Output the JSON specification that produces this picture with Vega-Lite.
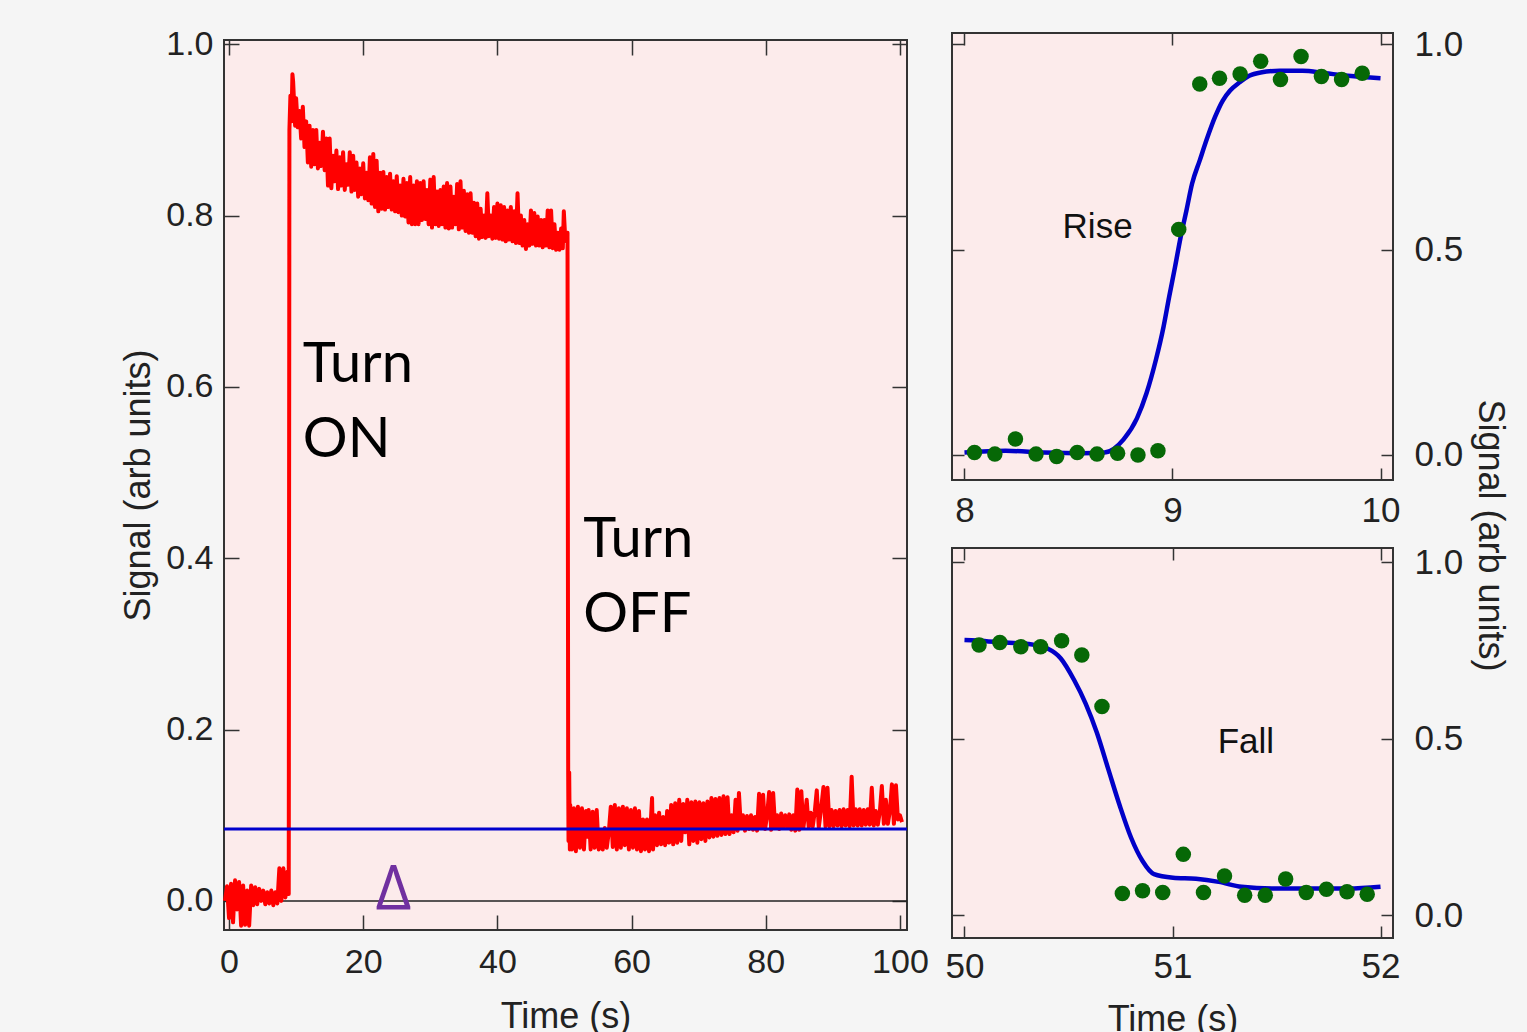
{
  "$schema": "https://vega.github.io/schema/vega-lite/v6.json",
  "background": "#f5f5f5",
  "padding": {"left": 119, "top": 26, "right": 30, "bottom": 10},
  "config": {
    "view": {"fill": "#fcebeb", "stroke": "#333333", "strokeWidth": 2},
    "axis": {"grid": false, "domain": false, "labelFont": "Liberation Sans", "labelFontSize": 34, "labelColor": "#222222", "titleFont": "Liberation Sans", "titleFontSize": 36, "titleFontWeight": "normal", "titleColor": "#222222", "tickColor": "#333333", "tickWidth": 1.5, "labelFlush": false, "labelOverlap": false}
  },
  "datasets": {
    "zero": [{"v": 0}],
    "base": [{"v": 0.084}],
    "spacer": [],
    "mainText": [{"t": 11.0, "v": 0.6056, "label": "Turn\nON"}, {"t": 52.8, "v": 0.4018, "label": "Turn\nOFF"}],
    "delta": [{"t": 24.5, "v": -0.0105, "label": "Δ"}],
    "red": [
      {"t":-0.6,"v":0.0},{"t":-0.3,"v":0.017},{"t":0.0,"v":-0.02},{"t":0.3,"v":0.02},{"t":0.6,"v":-0.025},{"t":0.9,"v":0.024},{"t":1.2,"v":-0.01},{"t":1.5,"v":0.022},{"t":1.8,"v":-0.029},{"t":2.1,"v":0.018},{"t":2.4,"v":-0.028},{"t":2.7,"v":0.012},{"t":3.0,"v":-0.029},{"t":3.3,"v":0.018},{"t":3.6,"v":-0.005},{"t":3.9,"v":0.016},{"t":4.2,"v":-0.004},{"t":4.5,"v":0.014},{"t":4.8,"v":0.0},{"t":5.1,"v":0.012},{"t":5.4,"v":-0.004},{"t":5.7,"v":0.01},{"t":6.0,"v":-0.003},{"t":6.3,"v":0.012},{"t":6.6,"v":-0.005},{"t":6.9,"v":0.01},{"t":7.2,"v":-0.003},{"t":7.5,"v":0.038},{"t":7.8,"v":0.0},{"t":8.1,"v":0.038},{"t":8.4,"v":0.004},{"t":8.7,"v":0.034},{"t":8.9,"v":0.008},
      {"t":9.0,"v":0.9},{"t":9.15,"v":0.94},{"t":9.3,"v":0.91},{"t":9.45,"v":0.965},{"t":9.55,"v":0.957},{"t":9.7,"v":0.932},{"t":9.85,"v":0.905},
      {"t":10.0,"v":0.937},{"t":10.25,"v":0.903},{"t":10.5,"v":0.922},{"t":10.75,"v":0.89},{"t":11.0,"v":0.927},{"t":11.25,"v":0.88},{"t":11.5,"v":0.91},{"t":11.75,"v":0.862},
      {"t":12.0,"v":0.905},{"t":12.25,"v":0.857},{"t":12.5,"v":0.9},{"t":12.75,"v":0.86},{"t":13.0,"v":0.9},{"t":13.25,"v":0.855},{"t":13.5,"v":0.885},{"t":13.75,"v":0.858},
      {"t":14.0,"v":0.898},{"t":14.25,"v":0.853},{"t":14.5,"v":0.89},{"t":14.75,"v":0.835},{"t":15.0,"v":0.89},{"t":15.25,"v":0.832},{"t":15.5,"v":0.87},{"t":15.75,"v":0.84},
      {"t":16.0,"v":0.876},{"t":16.25,"v":0.831},{"t":16.5,"v":0.868},{"t":16.75,"v":0.835},{"t":17.0,"v":0.874},{"t":17.25,"v":0.83},{"t":17.5,"v":0.86},{"t":17.75,"v":0.836},
      {"t":18.0,"v":0.874},{"t":18.25,"v":0.828},{"t":18.5,"v":0.87},{"t":18.75,"v":0.83},{"t":19.0,"v":0.862},{"t":19.25,"v":0.822},{"t":19.5,"v":0.855},{"t":19.75,"v":0.825},
      {"t":20.0,"v":0.861},{"t":20.25,"v":0.82},{"t":20.5,"v":0.85},{"t":20.75,"v":0.818},{"t":21.0,"v":0.868},{"t":21.25,"v":0.814},{"t":21.5,"v":0.872},{"t":21.75,"v":0.81},
      {"t":22.0,"v":0.864},{"t":22.25,"v":0.805},{"t":22.5,"v":0.85},{"t":22.75,"v":0.808},{"t":23.0,"v":0.851},{"t":23.25,"v":0.807},{"t":23.5,"v":0.845},{"t":23.75,"v":0.81},
      {"t":24.0,"v":0.849},{"t":24.25,"v":0.807},{"t":24.5,"v":0.84},{"t":24.75,"v":0.805},{"t":25.0,"v":0.846},{"t":25.25,"v":0.804},{"t":25.5,"v":0.835},{"t":25.75,"v":0.8},
      {"t":26.0,"v":0.843},{"t":26.25,"v":0.799},{"t":26.5,"v":0.838},{"t":26.75,"v":0.792},{"t":27.0,"v":0.845},{"t":27.25,"v":0.79},{"t":27.5,"v":0.835},{"t":27.75,"v":0.79},
      {"t":28.0,"v":0.84},{"t":28.25,"v":0.79},{"t":28.5,"v":0.838},{"t":28.75,"v":0.795},{"t":29.0,"v":0.84},{"t":29.25,"v":0.796},{"t":29.5,"v":0.83},{"t":29.75,"v":0.79},
      {"t":30.0,"v":0.842},{"t":30.25,"v":0.786},{"t":30.5,"v":0.845},{"t":30.75,"v":0.79},{"t":31.0,"v":0.828},{"t":31.25,"v":0.788},{"t":31.5,"v":0.83},{"t":31.75,"v":0.79},
      {"t":32.0,"v":0.834},{"t":32.25,"v":0.786},{"t":32.5,"v":0.838},{"t":32.75,"v":0.785},{"t":33.0,"v":0.834},{"t":33.25,"v":0.786},{"t":33.5,"v":0.822},{"t":33.75,"v":0.79},
      {"t":34.0,"v":0.837},{"t":34.25,"v":0.784},{"t":34.5,"v":0.84},{"t":34.75,"v":0.786},{"t":35.0,"v":0.829},{"t":35.25,"v":0.782},{"t":35.5,"v":0.825},{"t":35.75,"v":0.78},
      {"t":36.0,"v":0.826},{"t":36.25,"v":0.78},{"t":36.5,"v":0.815},{"t":36.75,"v":0.776},{"t":37.0,"v":0.814},{"t":37.25,"v":0.773},{"t":37.5,"v":0.808},{"t":37.75,"v":0.775},
      {"t":38.0,"v":0.8},{"t":38.25,"v":0.774},{"t":38.5,"v":0.826},{"t":38.75,"v":0.776},{"t":39.0,"v":0.8},{"t":39.25,"v":0.773},{"t":39.5,"v":0.81},{"t":39.75,"v":0.774},
      {"t":40.0,"v":0.814},{"t":40.25,"v":0.773},{"t":40.5,"v":0.812},{"t":40.75,"v":0.772},{"t":41.0,"v":0.81},{"t":41.25,"v":0.77},{"t":41.5,"v":0.806},{"t":41.75,"v":0.772},
      {"t":42.0,"v":0.81},{"t":42.25,"v":0.77},{"t":42.5,"v":0.805},{"t":42.75,"v":0.768},{"t":43.0,"v":0.826},{"t":43.25,"v":0.768},{"t":43.5,"v":0.8},{"t":43.75,"v":0.765},
      {"t":44.0,"v":0.795},{"t":44.25,"v":0.761},{"t":44.5,"v":0.79},{"t":44.75,"v":0.765},{"t":45.0,"v":0.806},{"t":45.25,"v":0.767},{"t":45.5,"v":0.803},{"t":45.75,"v":0.765},
      {"t":46.0,"v":0.799},{"t":46.25,"v":0.765},{"t":46.5,"v":0.795},{"t":46.75,"v":0.763},{"t":47.0,"v":0.795},{"t":47.25,"v":0.765},{"t":47.5,"v":0.806},{"t":47.75,"v":0.763},
      {"t":48.0,"v":0.806},{"t":48.25,"v":0.762},{"t":48.5,"v":0.79},{"t":48.75,"v":0.76},{"t":49.0,"v":0.78},{"t":49.25,"v":0.76},{"t":49.5,"v":0.785},{"t":49.75,"v":0.762},
      {"t":49.9,"v":0.805},{"t":50.1,"v":0.775},{"t":50.3,"v":0.77},{"t":50.45,"v":0.78},{"t":50.55,"v":0.15},{"t":50.6,"v":0.07},{"t":50.7,"v":0.15},{"t":50.8,"v":0.06},
      {"t":50.85,"v":0.112},{"t":51.1,"v":0.06},{"t":51.4,"v":0.108},{"t":51.7,"v":0.058},{"t":52.0,"v":0.11},{"t":52.3,"v":0.062},{"t":52.6,"v":0.108},{"t":52.9,"v":0.06},
      {"t":53.2,"v":0.105},{"t":53.4,"v":0.075},{"t":53.6,"v":0.106},{"t":53.9,"v":0.06},{"t":54.2,"v":0.104},{"t":54.5,"v":0.062},{"t":54.8,"v":0.106},{"t":55.1,"v":0.06},
      {"t":55.4,"v":0.082},{"t":55.7,"v":0.06},{"t":56.0,"v":0.085},{"t":56.3,"v":0.062},{"t":56.6,"v":0.08},{"t":56.9,"v":0.11},{"t":57.2,"v":0.063},{"t":57.5,"v":0.112},
      {"t":57.8,"v":0.06},{"t":58.1,"v":0.108},{"t":58.4,"v":0.062},{"t":58.7,"v":0.11},{"t":59.0,"v":0.065},{"t":59.3,"v":0.108},{"t":59.6,"v":0.06},{"t":59.9,"v":0.106},
      {"t":60.2,"v":0.062},{"t":60.5,"v":0.108},{"t":60.8,"v":0.06},{"t":61.1,"v":0.105},{"t":61.4,"v":0.058},{"t":61.7,"v":0.095},{"t":62.0,"v":0.06},{"t":62.3,"v":0.095},
      {"t":62.6,"v":0.058},{"t":62.9,"v":0.098},{"t":63.05,"v":0.12},{"t":63.2,"v":0.06},{"t":63.5,"v":0.1},{"t":63.8,"v":0.065},{"t":64.1,"v":0.103},{"t":64.4,"v":0.066},
      {"t":64.7,"v":0.098},{"t":65.0,"v":0.065},{"t":65.3,"v":0.105},{"t":65.6,"v":0.068},{"t":65.9,"v":0.112},{"t":66.2,"v":0.066},{"t":66.5,"v":0.114},{"t":66.8,"v":0.068},
      {"t":67.1,"v":0.118},{"t":67.4,"v":0.07},{"t":67.7,"v":0.113},{"t":68.0,"v":0.08},{"t":68.3,"v":0.118},{"t":68.6,"v":0.066},{"t":68.9,"v":0.115},{"t":69.2,"v":0.07},
      {"t":69.5,"v":0.116},{"t":69.8,"v":0.068},{"t":70.1,"v":0.115},{"t":70.4,"v":0.072},{"t":70.7,"v":0.114},{"t":71.0,"v":0.07},{"t":71.3,"v":0.116},{"t":71.6,"v":0.074},
      {"t":71.9,"v":0.12},{"t":72.2,"v":0.075},{"t":72.5,"v":0.119},{"t":72.8,"v":0.076},{"t":73.1,"v":0.12},{"t":73.4,"v":0.077},{"t":73.7,"v":0.122},{"t":74.0,"v":0.078},
      {"t":74.3,"v":0.121},{"t":74.6,"v":0.078},{"t":74.9,"v":0.1},{"t":75.2,"v":0.08},{"t":75.5,"v":0.118},{"t":75.8,"v":0.082},{"t":76.0,"v":0.126},{"t":76.3,"v":0.085},
      {"t":76.6,"v":0.1},{"t":76.9,"v":0.082},{"t":77.2,"v":0.099},{"t":77.5,"v":0.084},{"t":77.8,"v":0.1},{"t":78.1,"v":0.083},{"t":78.4,"v":0.098},{"t":78.7,"v":0.082},
      {"t":79.0,"v":0.125},{"t":79.3,"v":0.085},{"t":79.6,"v":0.124},{"t":79.9,"v":0.084},{"t":80.2,"v":0.1},{"t":80.5,"v":0.127},{"t":80.8,"v":0.083},{"t":81.1,"v":0.126},
      {"t":81.4,"v":0.085},{"t":81.7,"v":0.1},{"t":82.0,"v":0.084},{"t":82.3,"v":0.102},{"t":82.6,"v":0.085},{"t":82.9,"v":0.1},{"t":83.2,"v":0.086},{"t":83.5,"v":0.101},
      {"t":83.8,"v":0.083},{"t":84.1,"v":0.1},{"t":84.4,"v":0.082},{"t":84.7,"v":0.13},{"t":85.0,"v":0.083},{"t":85.3,"v":0.128},{"t":85.6,"v":0.085},{"t":85.9,"v":0.104},
      {"t":86.1,"v":0.118},{"t":86.4,"v":0.086},{"t":86.7,"v":0.103},{"t":87.0,"v":0.087},{"t":87.3,"v":0.104},{"t":87.6,"v":0.129},{"t":87.9,"v":0.086},{"t":88.2,"v":0.104},
      {"t":88.6,"v":0.133},{"t":88.9,"v":0.087},{"t":89.2,"v":0.132},{"t":89.5,"v":0.087},{"t":89.8,"v":0.106},{"t":90.1,"v":0.087},{"t":90.4,"v":0.105},{"t":90.7,"v":0.088},
      {"t":91.0,"v":0.106},{"t":91.3,"v":0.087},{"t":91.6,"v":0.107},{"t":91.9,"v":0.088},{"t":92.2,"v":0.106},{"t":92.5,"v":0.087},{"t":92.8,"v":0.145},{"t":93.1,"v":0.088},
      {"t":93.4,"v":0.107},{"t":93.7,"v":0.088},{"t":94.0,"v":0.107},{"t":94.3,"v":0.088},{"t":94.6,"v":0.106},{"t":94.9,"v":0.089},{"t":95.2,"v":0.107},{"t":95.5,"v":0.089},
      {"t":95.8,"v":0.132},{"t":96.1,"v":0.088},{"t":96.4,"v":0.105},{"t":96.7,"v":0.089},{"t":97.0,"v":0.104},{"t":97.3,"v":0.134},{"t":97.6,"v":0.09},{"t":97.9,"v":0.118},
      {"t":98.2,"v":0.09},{"t":98.5,"v":0.105},{"t":98.8,"v":0.136},{"t":99.1,"v":0.09},{"t":99.4,"v":0.135},{"t":99.7,"v":0.095},{"t":100.0,"v":0.1},{"t":100.3,"v":0.092}
    ],
    "risePts": [
      {"t":8.048,"v":0.006},{"t":8.146,"v":0.002},{"t":8.245,"v":0.039},{"t":8.344,"v":0.002},{"t":8.443,"v":-0.004},{"t":8.542,"v":0.006},{"t":8.637,"v":0.002},{"t":8.736,"v":0.004},{"t":8.834,"v":0.0},{"t":8.93,"v":0.01},
      {"t":9.03,"v":0.549},{"t":9.131,"v":0.903},{"t":9.226,"v":0.917},{"t":9.325,"v":0.927},{"t":9.424,"v":0.958},{"t":9.519,"v":0.914},{"t":9.618,"v":0.97},{"t":9.716,"v":0.921},{"t":9.813,"v":0.914},{"t":9.912,"v":0.929}
    ],
    "riseFit": [
      {"t":8.0,"v":0.006},{"t":8.198,"v":0.01},{"t":8.381,"v":0.006},{"t":8.564,"v":0.004},{"t":8.673,"v":0.006},{"t":8.765,"v":0.038},{"t":8.829,"v":0.089},{"t":8.875,"v":0.15},{"t":8.92,"v":0.231},{"t":8.957,"v":0.312},{"t":8.984,"v":0.385},{"t":9.012,"v":0.457},{"t":9.039,"v":0.53},{"t":9.067,"v":0.595},{"t":9.094,"v":0.66},{"t":9.131,"v":0.717},{"t":9.168,"v":0.773},{"t":9.204,"v":0.822},{"t":9.241,"v":0.862},{"t":9.277,"v":0.887},{"t":9.323,"v":0.907},{"t":9.369,"v":0.923},{"t":9.424,"v":0.931},{"t":9.515,"v":0.935},{"t":9.625,"v":0.935},{"t":9.735,"v":0.929},{"t":9.844,"v":0.923},{"t":10.0,"v":0.917}
    ],
    "fallPts": [
      {"t":50.07,"v":0.765},{"t":50.17,"v":0.772},{"t":50.271,"v":0.76},{"t":50.366,"v":0.76},{"t":50.467,"v":0.777},{"t":50.564,"v":0.737},{"t":50.661,"v":0.591},{"t":50.759,"v":0.061},{"t":50.856,"v":0.069},{"t":50.953,"v":0.064},
      {"t":51.052,"v":0.172},{"t":51.149,"v":0.064},{"t":51.25,"v":0.111},{"t":51.347,"v":0.056},{"t":51.446,"v":0.056},{"t":51.544,"v":0.102},{"t":51.643,"v":0.064},{"t":51.74,"v":0.073},{"t":51.839,"v":0.066},{"t":51.936,"v":0.059}
    ],
    "fallFit": [
      {"t":50.0,"v":0.779},{"t":50.106,"v":0.776},{"t":50.198,"v":0.772},{"t":50.307,"v":0.768},{"t":50.399,"v":0.755},{"t":50.463,"v":0.727},{"t":50.527,"v":0.666},{"t":50.582,"v":0.6},{"t":50.637,"v":0.516},{"t":50.692,"v":0.412},{"t":50.747,"v":0.309},{"t":50.801,"v":0.219},{"t":50.856,"v":0.153},{"t":50.911,"v":0.116},{"t":51.003,"v":0.106},{"t":51.113,"v":0.103},{"t":51.222,"v":0.094},{"t":51.332,"v":0.08},{"t":51.479,"v":0.075},{"t":51.661,"v":0.075},{"t":51.844,"v":0.075},{"t":52.0,"v":0.08}
    ],
    "riseText": [{"t": 8.64, "v": 0.528, "label": "Rise"}],
    "fallText": [{"t": 51.353, "v": 0.46, "label": "Fall"}]
  },
  "spacing": 14,
  "hconcat": [
    {
      "bounds": "flush",
      "spacing": 6,
      "vconcat": [
        {
          "width": 683,
          "height": 1,
          "view": {"fill": null, "stroke": null},
          "data": {"name": "spacer"},
          "mark": {"type": "point", "opacity": 0},
          "encoding": {}
        },
        {
          "width": 683,
          "height": 890,
          "layer": [
            {
              "data": {"name": "zero"},
              "mark": {"type": "rule", "color": "#222222", "strokeWidth": 1.5},
              "encoding": {
                "y": {"field": "v", "type": "quantitative", "scale": {"domain": [-0.034, 1.005], "nice": false, "zero": false}, "axis": null}
              }
            },
            {
              "data": {"name": "red"},
              "mark": {"type": "line", "color": "#ff0000", "strokeWidth": 4, "strokeJoin": "round"},
              "encoding": {
                "x": {"field": "t", "type": "quantitative", "scale": {"domain": [-0.75, 101.05], "nice": false, "zero": false},
                      "axis": {"orient": "bottom", "values": [0, 20, 40, 60, 80, 100], "tickSize": -15, "labelPadding": 30, "title": "Time (s)", "titlePadding": 20}},
                "y": {"field": "v", "type": "quantitative", "scale": {"domain": [-0.034, 1.005], "nice": false, "zero": false},
                      "axis": {"orient": "left", "values": [0, 0.2, 0.4, 0.6, 0.8, 1.0], "format": ".1f", "tickSize": -15, "labelPadding": 26, "title": "Signal (arb units)", "titlePadding": 8}}
              }
            },
            {
              "data": {"name": "base"},
              "mark": {"type": "rule", "color": "#0000cc", "strokeWidth": 3},
              "encoding": {
                "y": {"field": "v", "type": "quantitative", "axis": null}
              }
            },
            {
              "data": {"name": "mainText"},
              "mark": {"type": "text", "font": "Lato", "fontSize": 56, "align": "left", "baseline": "alphabetic", "lineBreak": "\n", "lineHeight": 75, "color": "#000000"},
              "encoding": {
                "x": {"field": "t", "type": "quantitative",
                      "axis": {"orient": "top", "values": [0, 20, 40, 60, 80, 100], "tickSize": -15, "labels": false, "title": null}},
                "y": {"field": "v", "type": "quantitative",
                      "axis": {"orient": "right", "values": [0, 0.2, 0.4, 0.6, 0.8, 1.0], "tickSize": -15, "labels": false, "title": null}},
                "text": {"field": "label"}
              }
            },
            {
              "data": {"name": "delta"},
              "mark": {"type": "text", "font": "Open Sans", "fontSize": 62, "align": "center", "baseline": "alphabetic", "color": "#7030a0"},
              "encoding": {
                "x": {"field": "t", "type": "quantitative", "axis": null},
                "y": {"field": "v", "type": "quantitative", "axis": null},
                "text": {"field": "label"}
              }
            }
          ],
          "resolve": {"axis": {"x": "independent", "y": "independent"}}
        }
      ]
    },
    {
      "bounds": "flush",
      "spacing": 68,
      "vconcat": [
        {
          "width": 441,
          "height": 447,
          "layer": [
            {
              "data": {"name": "riseFit"},
              "mark": {"type": "line", "color": "#0000c8", "strokeWidth": 4.5, "interpolate": "monotone"},
              "encoding": {
                "x": {"field": "t", "type": "quantitative", "scale": {"domain": [7.94, 10.06], "nice": false, "zero": false},
                      "axis": {"orient": "top", "values": [8, 9, 10], "tickSize": -12, "labels": false, "title": null}},
                "y": {"field": "v", "type": "quantitative", "scale": {"domain": [-0.061, 1.027], "nice": false, "zero": false},
                      "axis": {"orient": "left", "values": [0, 0.5, 1.0], "tickSize": -12, "labels": false, "title": null}}
              }
            },
            {
              "data": {"name": "risePts"},
              "mark": {"type": "circle", "color": "#066806", "opacity": 1, "size": 240},
              "encoding": {
                "x": {"field": "t", "type": "quantitative",
                      "axis": {"orient": "bottom", "values": [8, 9, 10], "format": ".0f", "labelFontSize": 35, "tickSize": -12, "labelPadding": 25, "title": null}},
                "y": {"field": "v", "type": "quantitative",
                      "axis": {"orient": "right", "values": [0, 0.5, 1.0], "format": ".1f", "labelFontSize": 35, "tickSize": -12, "labelPadding": 33, "title": "Signal (arb units)", "titleAngle": 90, "titleY": 502, "titlePadding": 8}}
              }
            },
            {
              "data": {"name": "riseText"},
              "mark": {"type": "text", "font": "Liberation Sans", "fontSize": 35, "align": "center", "baseline": "alphabetic", "color": "#111111"},
              "encoding": {
                "x": {"field": "t", "type": "quantitative", "axis": null},
                "y": {"field": "v", "type": "quantitative", "axis": null},
                "text": {"field": "label"}
              }
            }
          ],
          "resolve": {"axis": {"x": "independent", "y": "independent"}}
        },
        {
          "width": 441,
          "height": 390,
          "layer": [
            {
              "data": {"name": "fallFit"},
              "mark": {"type": "line", "color": "#0000c8", "strokeWidth": 4.5, "interpolate": "monotone"},
              "encoding": {
                "x": {"field": "t", "type": "quantitative", "scale": {"domain": [49.94, 52.06], "nice": false, "zero": false},
                      "axis": {"orient": "top", "values": [50, 51, 52], "tickSize": -12, "labels": false, "title": null}},
                "y": {"field": "v", "type": "quantitative", "scale": {"domain": [-0.065, 1.04], "nice": false, "zero": false},
                      "axis": {"orient": "left", "values": [0, 0.5, 1.0], "tickSize": -12, "labels": false, "title": null}}
              }
            },
            {
              "data": {"name": "fallPts"},
              "mark": {"type": "circle", "color": "#066806", "opacity": 1, "size": 240},
              "encoding": {
                "x": {"field": "t", "type": "quantitative",
                      "axis": {"orient": "bottom", "values": [50, 51, 52], "format": ".0f", "labelFontSize": 35, "tickSize": -12, "labelPadding": 23, "title": "Time (s)", "titlePadding": 18}},
                "y": {"field": "v", "type": "quantitative",
                      "axis": {"orient": "right", "values": [0, 0.5, 1.0], "format": ".1f", "labelFontSize": 35, "tickSize": -12, "labelPadding": 33, "title": null}}
              }
            },
            {
              "data": {"name": "fallText"},
              "mark": {"type": "text", "font": "Liberation Sans", "fontSize": 35, "align": "center", "baseline": "alphabetic", "color": "#111111"},
              "encoding": {
                "x": {"field": "t", "type": "quantitative", "axis": null},
                "y": {"field": "v", "type": "quantitative", "axis": null},
                "text": {"field": "label"}
              }
            }
          ],
          "resolve": {"axis": {"x": "independent", "y": "independent"}}
        }
      ]
    }
  ]
}
